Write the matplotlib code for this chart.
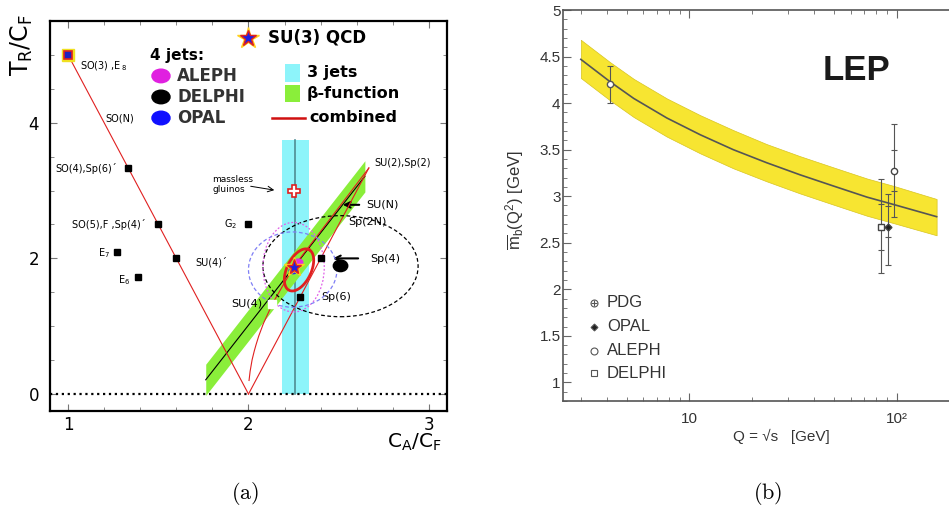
import numpy as np
import matplotlib.pyplot as plt
from matplotlib.patches import Ellipse, Rectangle
from matplotlib.ticker import MultipleLocator, FixedLocator, NullFormatter

plt.rcParams['font.family'] = ['DejaVu Sans']
plt.rcParams['mathtext.fontset'] = 'custom'
plt.rcParams['mathtext.rm'] = 'Liberation Sans'
plt.rcParams['mathtext.it'] = 'Liberation Sans:italic'
plt.rcParams['mathtext.bf'] = 'Liberation Sans:bold'

# ---------------- panel (a): colour factors ----------------
# group points (C_A/C_F, n_f T_R/C_F), black squares
grp_x = [1.333, 1.5, 1.6, 1.27, 1.39, 2.0, 2.4, 2.286]
grp_y = [3.333, 2.5, 2.0, 2.1, 1.72, 2.5, 2.0, 1.43]
# SO(N), Sp(2N) lines and SU(N) curve
so_x, so_y = [1.0, 2.0], [5.0, 0.0]
sp_x, sp_y = [2.0, 2.667], [0.0, 3.333]
sun_x = [2.667, 2.25, 2.133, 2.083, 2.057, 2.042, 2.032, 2.020, 2.009, 2.003]
sun_y = [3.333, 1.875, 1.333, 1.042, 0.857, 0.729, 0.635, 0.505, 0.335, 0.200]
# 3-jet band
jet3_x = [2.187, 2.26, 2.336]
jet3_top = 3.745
# beta-function band
beta_x = [1.763, 2.645]
beta_c = [0.21, 3.21]
beta_hw = 0.23
# 4-jet ellipses: centre x, centre y, half-width, half-height
aleph_ell = [2.25, 1.87, 0.17, 0.66]
opal_ell = [2.245, 1.835, 0.245, 0.555]
delphi_ell = [2.51, 1.885, 0.43, 0.745]
# combined fit: centre, major / minor half vectors
comb_c = [2.28, 1.83]
comb_major = [0.055, 0.30]
comb_minor = [0.06, -0.08]
su3 = [2.25, 1.875]
gluino = [2.25, 3.0]

# ---------------- panel (b): running b mass ----------------
mb_q = [3.0, 4.15, 5.4, 7.8, 11.3, 16.3, 23.6, 34.2, 49.5, 72, 97, 156]
mb_c = [4.47, 4.23, 4.05, 3.84, 3.66, 3.50, 3.36, 3.23, 3.11, 2.99, 2.91, 2.78]
mb_hi = [4.68, 4.44, 4.26, 4.05, 3.87, 3.71, 3.56, 3.43, 3.31, 3.19, 3.11, 2.97]
mb_lo = [4.27, 4.03, 3.85, 3.64, 3.46, 3.30, 3.16, 3.03, 2.91, 2.79, 2.71, 2.58]
# measurements: Q, value, total up, total down, stat up, stat down
pdg = [4.15, 4.20, 0.20, 0.20]
delphi = [84, 2.67, 0.51, 0.50, 0.25, 0.25]
opal = [90.5, 2.67, 0.35, 0.41, 0.22, 0.11]
aleph = [97, 3.27, 0.51, 0.49, 0.23, 0.21]

fig = plt.figure(figsize=(9.49, 5.11), dpi=100)

# ============ (a) ============
ax = fig.add_axes([0.0527, 0.1957, 0.4183, 0.7632])
ax.set_xlim(0.9, 3.1)
ax.set_ylim(-0.25, 5.5)

ax.fill_between([jet3_x[0], jet3_x[2]], 0, jet3_top, color='#8df4fa', lw=0, zorder=1)
ax.plot([jet3_x[1], jet3_x[1]], [0, jet3_top], color='#4f8c92', lw=1.2, zorder=2)

bx = np.array(beta_x)
bc = np.array(beta_c)
ax.fill_between(bx, bc - beta_hw, bc + beta_hw, color='#8aee3a', lw=0, zorder=2)
ax.plot(bx, bc, color='black', lw=0.8, zorder=3)

ax.axhline(0, color='black', ls=':', lw=1.6, zorder=3)

red = '#e02020'
ax.plot(so_x, so_y, color=red, lw=0.8, zorder=4)
ax.plot(sp_x, sp_y, color=red, lw=0.8, zorder=4)
ax.plot(sun_x, sun_y, color=red, lw=0.8, zorder=4)

for ell, col, ls in [(delphi_ell, 'black', (0, (3, 2))),
                     (aleph_ell, '#e060e8', (0, (1.5, 1.5))),
                     (opal_ell, '#7f7ff5', (0, (3, 2)))]:
    ax.add_patch(Ellipse((ell[0], ell[1]), 2 * ell[2], 2 * ell[3], fill=False,
                         ec=col, ls=ls, lw=0.9, zorder=5))

t = np.linspace(0, 2 * np.pi, 200)
ex = comb_c[0] + comb_major[0] * np.cos(t) + comb_minor[0] * np.sin(t)
ey = comb_c[1] + comb_major[1] * np.cos(t) + comb_minor[1] * np.sin(t)
ax.plot(ex, ey, color=red, lw=2, zorder=6)

ax.plot(grp_x, grp_y, ls='none', marker='s', ms=5, color='black', zorder=7)
ax.plot(2.133, 1.333, marker='s', ms=6, color='white', zorder=7)
ax.plot(1.0, 5.0, marker='s', ms=9, mfc='#f0e020', mec='#f0e020', zorder=7)
ax.plot(1.0, 5.0, marker='s', ms=6, mfc='#2020c0', mec=red, mew=1.2, zorder=8)
ax.plot(gluino[0], gluino[1], marker='P', ms=9, mfc='white', mec=red, mew=1.2, zorder=7)

ax.add_patch(Ellipse((2.51, 1.89), 0.08, 0.17, color='black', zorder=7))
ax.add_patch(Ellipse((2.276, 1.94), 0.05, 0.1, color='#e030e0', zorder=8))
ax.add_patch(Ellipse((2.248, 1.82), 0.045, 0.09, color='#2020ff', zorder=8))
ax.plot(su3[0], su3[1], marker='*', ms=15, color='#ffd020', zorder=9)
ax.plot(su3[0], su3[1], marker='*', ms=11, mfc='#2020e0', mec=red, mew=1, zorder=10)

# legend block
ax.plot(1.997, 5.25, marker='*', ms=16, color='#ffd020', zorder=9)
ax.plot(1.997, 5.25, marker='*', ms=12, mfc='#2020e0', mec=red, mew=1, zorder=10)
ax.text(2.108, 5.25, 'SU(3) QCD', fontsize=12, fontweight='bold', va='center')
ax.text(1.454, 4.985, '4 jets:', fontsize=11, fontweight='bold', va='center')
for yy, col, name in [(4.69, '#e020e0', 'ALEPH'), (4.38, 'black', 'DELPHI'), (4.07, '#1010ff', 'OPAL')]:
    ax.add_patch(Ellipse((1.515, yy), 0.1, 0.2, color=col))
    ax.text(1.604, yy, name, fontsize=12, fontweight='bold', va='center', color='#333333')
ax.add_patch(Rectangle((2.201, 4.60), 0.083, 0.27, color='#8df4fa', lw=0))
ax.add_patch(Rectangle((2.201, 4.31), 0.083, 0.25, color='#8aee3a', lw=0))
ax.text(2.324, 4.735, '3 jets', fontsize=11.5, fontweight='bold', va='center')
ax.text(2.324, 4.43, 'β-function', fontsize=11.5, fontweight='bold', va='center')
ax.plot([2.13, 2.313], [4.07, 4.07], color='#d01010', lw=1.8)
ax.text(2.34, 4.07, 'combined', fontsize=11.5, fontweight='bold', va='center')

# group labels
lab = dict(fontsize=7, va='center', math_fontfamily='dejavusans')
ax.text(1.066, 4.84, 'SO(3) ,E$_{\\,8}$', ha='left', **lab)
ax.text(1.205, 4.06, 'SO(N)', ha='left', **lab)
ax.text(1.27, 3.32, 'SO(4),Sp(6)´', ha='right', **lab)
ax.text(1.43, 2.5, 'SO(5),F ,Sp(4)´', ha='right', **lab)
ax.text(1.233, 2.08, 'E$_7$', ha='right', **lab)
ax.text(1.343, 1.68, 'E$_6$', ha='right', **lab)
ax.text(1.935, 2.5, 'G$_2$', ha='right', **lab)
ax.text(1.704, 1.94, 'SU(4)´', ha='left', **lab)
ax.text(1.80, 3.09, 'massless\ngluinos', ha='left', fontsize=6.5, va='center', linespacing=1.1)
ax.annotate('', xy=(2.158, 3.0), xytext=(1.997, 3.07),
            arrowprops=dict(arrowstyle='->', lw=0.7, color='black'))
ax.text(2.70, 3.40, 'SU(2),Sp(2)', ha='left', **lab)
ax.text(2.655, 2.79, 'SU(N)', ha='left', fontsize=8, va='center')
ax.annotate('', xy=(2.507, 2.79), xytext=(2.629, 2.79),
            arrowprops=dict(arrowstyle='->', lw=1.5, color='black'))
ax.text(2.551, 2.53, 'Sp(2N)', ha='left', fontsize=8, va='center')
ax.text(2.673, 1.99, 'Sp(4)', ha='left', fontsize=8, va='center')
ax.annotate('', xy=(2.452, 2.0), xytext=(2.623, 2.0),
            arrowprops=dict(arrowstyle='->', lw=1.5, color='black'))
ax.text(2.405, 1.43, 'Sp(6)', ha='left', fontsize=8, va='center')
ax.text(1.903, 1.33, 'SU(4)', ha='left', fontsize=8, va='center')

ax.xaxis.set_major_locator(FixedLocator([1, 2, 3]))
ax.xaxis.set_minor_locator(MultipleLocator(0.2))
ax.yaxis.set_major_locator(FixedLocator([0, 2, 4]))
ax.yaxis.set_minor_locator(MultipleLocator(0.5))
ax.tick_params(which='both', direction='in', top=True, right=True, color='#777777')
ax.tick_params(which='major', length=5, labelsize=12)
ax.tick_params(which='minor', length=3)
ax.tick_params(axis='y', pad=8)
for s in ax.spines.values():
    s.set_linewidth(1.6)
fig.text(0.0232, 0.912, 'T$_\\mathrm{R}$/C$_\\mathrm{F}$', rotation=90, ha='center', va='center',
         fontsize=17, math_fontfamily='dejavusans')
fig.text(0.437, 0.135, 'C$_\\mathrm{A}$/C$_\\mathrm{F}$', ha='center', va='center',
         fontsize=14.5, math_fontfamily='dejavusans')

# ============ (b) ============
gray = '#333333'
ax2 = fig.add_axes([0.5936, 0.2153, 0.4064, 0.7651])
ax2.set_xscale('log')
ax2.set_xlim(2.47, 179)
ax2.set_ylim(0.8, 5.0)
ax2.fill_between(mb_q, mb_lo, mb_hi, color='#f7e531', lw=0.5, ec='#d8c420', zorder=1)
ax2.plot(mb_q, mb_c, color='#555555', lw=1.2, zorder=2)

eb = dict(color='#555555', lw=0.8, capsize=2.5, capthick=0.8, zorder=3)
ax2.errorbar(pdg[0], pdg[1], yerr=[[pdg[3]], [pdg[2]]], fmt='o', ms=4.5, mfc='white', mec='#555555', **eb)
for m, fmt, face in [(delphi, 's', 'white'), (opal, 'D', '#222222'), (aleph, 'o', 'white')]:
    ax2.errorbar(m[0], m[1], yerr=[[m[3]], [m[2]]], fmt=fmt, ms=4.5 if fmt != 'D' else 3.5,
                 mfc=face, mec='#444444', **eb)
    ax2.plot([m[0], m[0]], [m[1] + m[4], m[1] - m[5]], ls='none', marker='_', ms=5,
             color='#555555', mew=0.8, zorder=3)

ax2.text(0.759, 0.8465, 'LEP', transform=ax2.transAxes, fontsize=25, fontweight='bold',
         family='Liberation Sans', color='#1a1a1a', ha='center', va='center')

leg = [('PDG', 'o', 'white'), ('OPAL', 'D', '#222222'), ('ALEPH', 'o', 'white'), ('DELPHI', 's', 'white')]
leg_y = [0.2514, 0.190, 0.1286, 0.0708]
for (name, mk, face), yy in zip(leg, leg_y):
    ax2.plot(0.0796, yy, marker=mk, ms=5 if mk != 'D' else 3.5, mfc=face, mec='#555555',
             mew=0.8, transform=ax2.transAxes, clip_on=False)
    ax2.text(0.113, yy, name, transform=ax2.transAxes, fontsize=12, family='Liberation Sans',
             color=gray, va='center')
ax2.plot(0.0796, leg_y[0], marker='+', ms=4, color='#555555', mew=0.8, transform=ax2.transAxes)

ax2.xaxis.set_major_locator(FixedLocator([10, 100]))
ax2.set_xticklabels(['10', '10²'])
ax2.xaxis.set_minor_locator(FixedLocator([3, 4, 5, 6, 7, 8, 9, 20, 30, 40, 50, 60, 70, 80, 90]))
ax2.xaxis.set_minor_formatter(NullFormatter())
ax2.yaxis.set_minor_locator(MultipleLocator(0.1))
ax2.set_yticks([1, 1.5, 2, 2.5, 3, 3.5, 4, 4.5, 5])
ax2.set_yticklabels(['1', '1.5', '2', '2.5', '3', '3.5', '4', '4.5', '5'])
ax2.tick_params(which='both', direction='in', top=True, right=False, color='#666666',
                labelcolor=gray)
ax2.tick_params(which='major', length=6, labelsize=11)
ax2.tick_params(which='minor', length=3)
ax2.tick_params(axis='x', pad=8)
ax2.tick_params(axis='y', pad=2)
for lbl in ax2.get_xticklabels() + ax2.get_yticklabels():
    lbl.set_family('Liberation Sans')
ax2.spines['right'].set_visible(False)
for s in ['top', 'left', 'bottom']:
    ax2.spines[s].set_color('#555555')
    ax2.spines[s].set_linewidth(1.2)

fig.text(0.5417, 0.609, '$\\overline{\\mathrm{m}}_\\mathrm{b}(\\mathrm{Q}^2)$ [GeV]', rotation=90,
         ha='center', va='center', fontsize=12, family='Liberation Sans', color=gray)
fig.text(0.8235, 0.145, 'Q = √s   [GeV]', ha='center', va='center', fontsize=11,
         family=['Liberation Sans', 'DejaVu Sans'], color=gray)

fig.text(0.258, 0.035, '$(\\mathrm{a})$', ha='center', va='center', fontsize=16, math_fontfamily='cm')
fig.text(0.809, 0.035, '$(\\mathrm{b})$', ha='center', va='center', fontsize=16, math_fontfamily='cm')

fig.savefig('out.png', dpi=100)
